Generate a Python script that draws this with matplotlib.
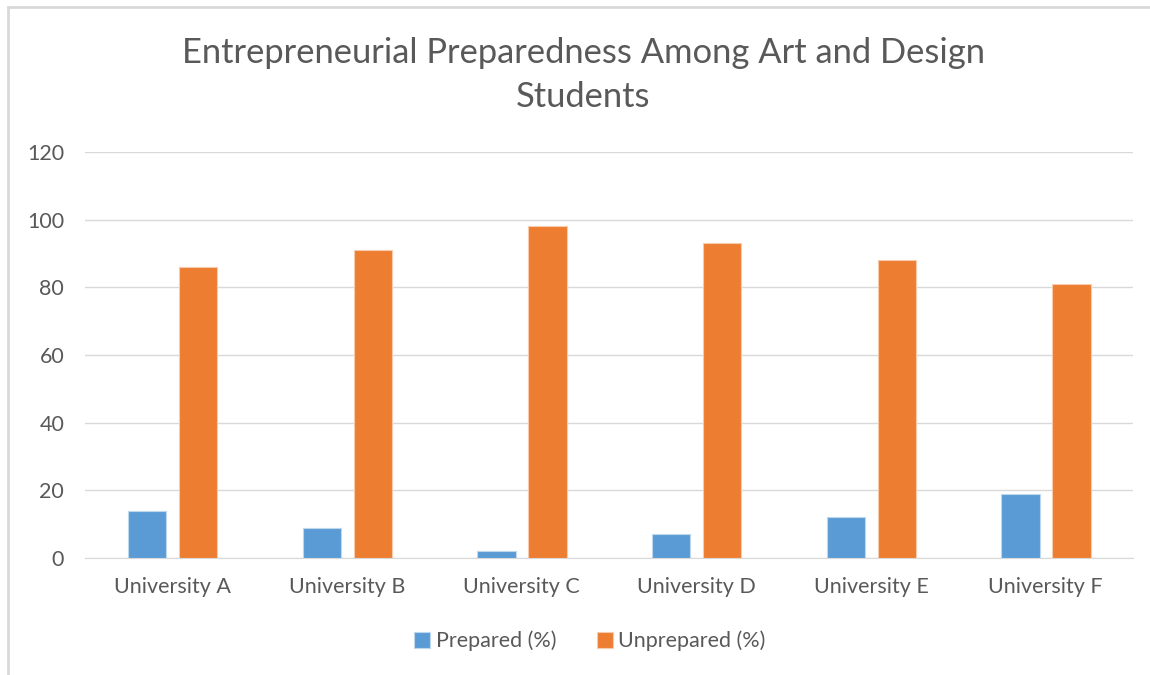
import matplotlib.pyplot as plt
from matplotlib.patches import Rectangle
import numpy as np

universities = ["University A", "University B", "University C",
                "University D", "University E", "University F"]
prepared = [14, 9, 2, 7, 12, 19]
unprepared = [86, 91, 98, 93, 88, 81]

plt.rcParams['font.family'] = ['Lato', 'DejaVu Sans']
txt = '#595959'

fig = plt.figure(figsize=(11.5, 6.75), dpi=100)
ax = fig.add_axes([85/1150, 1-558/675, (1133-85)/1150, (558-152)/675])

x = np.arange(len(universities))
w = 0.218
ax.bar(x - 0.144, prepared, w, color='#5B9BD5', edgecolor='#BDD7EE', linewidth=0.8,
       label='Prepared (%)', zorder=3)
ax.bar(x + 0.148, unprepared, w, color='#ED7D31', edgecolor='#F8CBAD', linewidth=0.8,
       label='Unprepared (%)', zorder=3)

ax.set_xlim(-0.5, len(universities) - 0.5)
ax.set_ylim(0, 120)
ax.set_yticks(range(0, 121, 20))
ax.set_xticks(x)
ax.set_xticklabels(universities)
ax.grid(axis='y', color='#D9D9D9', linewidth=1, zorder=0)
for s in ['top', 'right', 'left']:
    ax.spines[s].set_visible(False)
ax.spines['bottom'].set_color('#D9D9D9')
ax.tick_params(axis='both', length=0, colors=txt, labelsize=15.5)
ax.tick_params(axis='x', pad=14)
ax.tick_params(axis='y', pad=15)

fig.text(0.507, 1-75/675, "Entrepreneurial Preparedness Among Art and Design\nStudents",
         ha='center', va='center', fontsize=24.8, color=txt, linespacing=1.45)

leg = fig.legend(loc='center', bbox_to_anchor=(0.513, 1-641/675), ncol=2, frameon=False,
                 fontsize=15.5, handlelength=0.75, handleheight=0.75, handletextpad=0.25,
                 columnspacing=1.9)
for t in leg.get_texts():
    t.set_color(txt)

fig.patches.append(Rectangle((8/1150, -0.1), 2, 1-7/675+0.1, transform=fig.transFigure,
                             fill=False, edgecolor='#D9D9D9', linewidth=2))

fig.savefig('out.png', dpi=100, facecolor='white')
